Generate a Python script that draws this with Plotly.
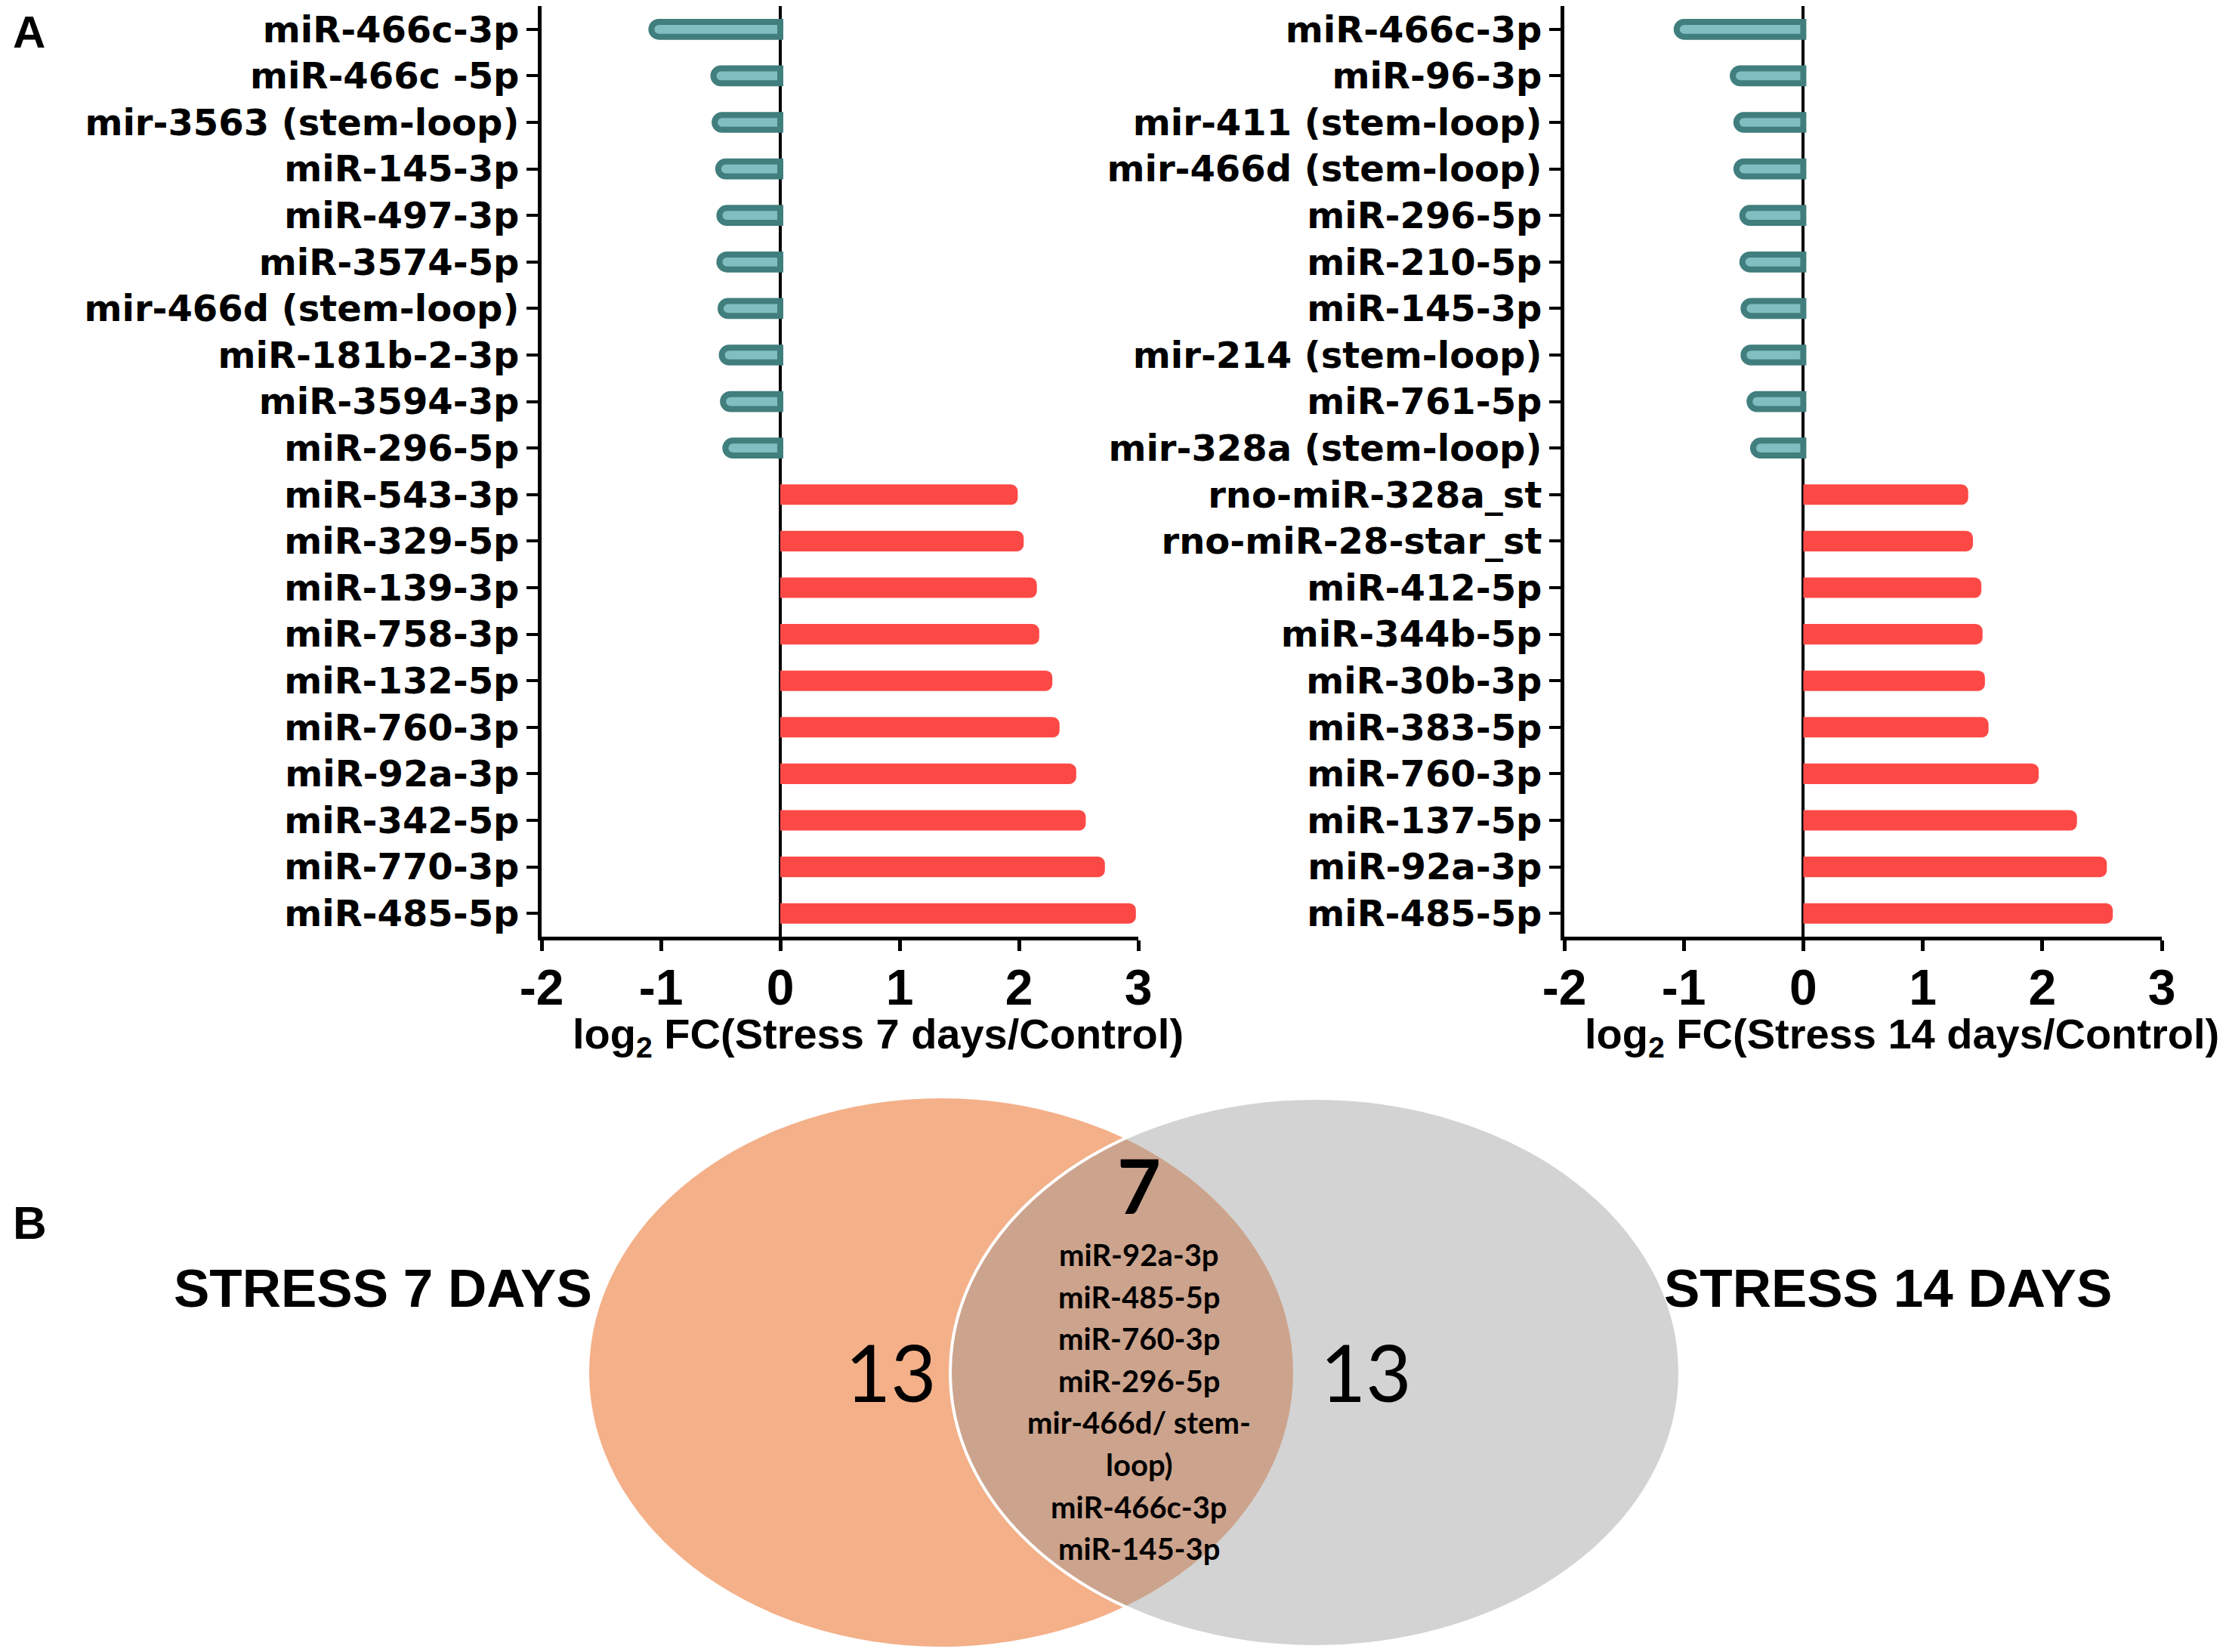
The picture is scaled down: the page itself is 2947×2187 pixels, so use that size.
# -*- coding: utf-8 -*-
"""
Figure : miRNA différentiellement exprimés (log2 FC) après 7 et 14 jours de stress,
+ diagramme de Venn des miRNA communs.
"""

#%% import library
import plotly.graph_objects as go


#%% data (ordre de haut en bas)
mirna_7d = ["miR-466c-3p", "miR-466c -5p", "mir-3563 (stem-loop)", "miR-145-3p",
            "miR-497-3p", "miR-3574-5p", "mir-466d (stem-loop)", "miR-181b-2-3p",
            "miR-3594-3p", "miR-296-5p", "miR-543-3p", "miR-329-5p", "miR-139-3p",
            "miR-758-3p", "miR-132-5p", "miR-760-3p", "miR-92a-3p", "miR-342-5p",
            "miR-770-3p", "miR-485-5p"]
fc_7d = [-1.08, -0.56, -0.55, -0.52, -0.51, -0.51, -0.50, -0.49, -0.48, -0.46,
         1.99, 2.04, 2.15, 2.17, 2.28, 2.34, 2.48, 2.56, 2.72, 2.98]

mirna_14d = ["miR-466c-3p", "miR-96-3p", "mir-411 (stem-loop)", "mir-466d (stem-loop)",
             "miR-296-5p", "miR-210-5p", "miR-145-3p", "mir-214 (stem-loop)",
             "miR-761-5p", "mir-328a (stem-loop)", "rno-miR-328a_st", "rno-miR-28-star_st",
             "miR-412-5p", "miR-344b-5p", "miR-30b-3p", "miR-383-5p", "miR-760-3p",
             "miR-137-5p", "miR-92a-3p", "miR-485-5p"]
fc_14d = [-1.06, -0.59, -0.56, -0.56, -0.51, -0.51, -0.50, -0.50, -0.45, -0.42,
          1.38, 1.42, 1.49, 1.50, 1.52, 1.55, 1.97, 2.29, 2.54, 2.59]

x_ticks = [-2, -1, 0, 1, 2, 3]
x_tick_text = ["-2", "-1", "0", "1", "2", "3"]

venn_labels = ["STRESS 7 DAYS", "STRESS 14 DAYS"]
venn_only = [13, 13]
venn_common = 7
venn_common_lines = ["miR-92a-3p", "miR-485-5p", "miR-760-3p", "miR-296-5p",
                     "mir-466d/ stem-", "loop)", "miR-466c-3p", "miR-145-3p"]


#%% style
W, H = 2947, 2187
OFF = 8  # marge du body html

TEAL_FILL = "#80bec2"
TEAL_LINE = "#417e7e"
RED = "#fd4946"
ORANGE = "#f4b089"
GREY = "#909090"


def fx(x):
    return (x - OFF) / W


def fy(y):
    return 1 - (y - OFF) / H


#%% bar charts
fig = go.Figure()

panels = [(mirna_7d, fc_7d, "x", "y"), (mirna_14d, fc_14d, "x2", "y2")]

for names, vals, xa, ya in panels:
    neg = [(n, v) for n, v in zip(names, vals) if v < 0]
    pos = [(n, v) for n, v in zip(names, vals) if v >= 0]

    fig.add_trace(go.Bar(
        x=[v for n, v in neg], y=[n for n, v in neg], orientation="h",
        xaxis=xa, yaxis=ya, width=0.32, showlegend=False,
        marker=dict(color=TEAL_FILL, line=dict(color=TEAL_LINE, width=8), cornerradius=10)))

    fig.add_trace(go.Bar(
        x=[v for n, v in pos], y=[n for n, v in pos], orientation="h",
        xaxis=xa, yaxis=ya, width=0.44, showlegend=False,
        marker=dict(color=RED, line=dict(width=0), cornerradius=9)))


xaxis_style = dict(
    range=[-2, 3], tickvals=x_ticks, ticktext=x_tick_text, showgrid=False,
    showline=True, linewidth=5, linecolor="black",
    ticks="outside", ticklen=14, tickwidth=5, tickcolor="black",
    ticklabelstandoff=-8,
    tickfont=dict(family="Liberation Sans", size=66, color="black", weight="bold"),
    zeroline=True, zerolinecolor="black", zerolinewidth=4,
    automargin=False, fixedrange=True)

yaxis_style = dict(
    domain=[fy(1240), fy(8)], showgrid=False, zeroline=False,
    showline=True, linewidth=5, linecolor="black",
    ticks="outside", ticklen=15, tickwidth=4, tickcolor="black",
    tickfont=dict(family="DejaVu Sans", size=48, color="black", weight="bold"),
    automargin=False, fixedrange=True)

fig.update_layout(
    xaxis=dict(xaxis_style, domain=[fx(717), fx(1507)], anchor="y"),
    yaxis=dict(yaxis_style, anchor="x", categoryorder="array", categoryarray=mirna_7d,
               range=[len(mirna_7d) - 0.5, -0.5]),
    xaxis2=dict(xaxis_style, domain=[fx(2071), fx(2862)], anchor="y2"),
    yaxis2=dict(yaxis_style, anchor="x2", categoryorder="array", categoryarray=mirna_14d,
                range=[len(mirna_14d) - 0.5, -0.5]),
    barmode="overlay")


#%% venn
shapes = [
    dict(type="circle", xref="paper", yref="paper",
         x0=fx(780), x1=fx(1712), y0=fy(2180), y1=fy(1454),
         fillcolor=ORANGE, line=dict(width=0), layer="below"),
    dict(type="circle", xref="paper", yref="paper",
         x0=fx(1258), x1=fx(2224), y0=fy(2180), y1=fy(1454),
         fillcolor=GREY, opacity=0.4, line=dict(width=0), layer="below"),
    dict(type="circle", xref="paper", yref="paper",
         x0=fx(1258), x1=fx(2224), y0=fy(2180), y1=fy(1454),
         fillcolor="rgba(0,0,0,0)", line=dict(width=4, color="white"), layer="below"),
]
fig.update_layout(shapes=shapes)


#%% annotations
annots = []


def add_text(txt, x, y, family, size, bold=False, xanchor="center", yanchor="middle"):
    annots.append(dict(
        text=txt, x=fx(x), y=fy(y), xref="paper", yref="paper",
        xanchor=xanchor, yanchor=yanchor, showarrow=False, borderpad=0,
        font=dict(family=family, size=size, color="black",
                  weight="bold" if bold else "normal")))


add_text("log<sub>2</sub> FC(Stress 7 days/Control)", 1162, 1372, "Liberation Sans", 56, True)
add_text("log<sub>2</sub> FC(Stress 14 days/Control)", 2518, 1372, "Liberation Sans", 56, True)

add_text("A", 16, 8, "Liberation Sans", 60, True, xanchor="left", yanchor="top")
add_text("B", 16, 1618, "Liberation Sans", 62, True, xanchor="left")

add_text(venn_labels[0], 507, 1705, "Liberation Sans", 71, True)
add_text(venn_labels[1], 2499, 1705, "Liberation Sans", 71, True)

add_text(str(venn_only[0]), 1179, 1815, "Lato", 104)
add_text(str(venn_only[1]), 1809, 1815, "Lato", 104)
add_text(str(venn_common), 1508, 1568, "Lato", 100, True)

for i, line in enumerate(venn_common_lines):
    add_text(line, 1508, 1661 + i * 55.6, "Lato", 40, True)

fig.update_layout(annotations=annots)


#%% layout général
fig.update_layout(
    width=W, height=H, autosize=False,
    margin=dict(l=0, r=0, t=0, b=0),
    paper_bgcolor="white", plot_bgcolor="white")

fig.write_html("out.html")
